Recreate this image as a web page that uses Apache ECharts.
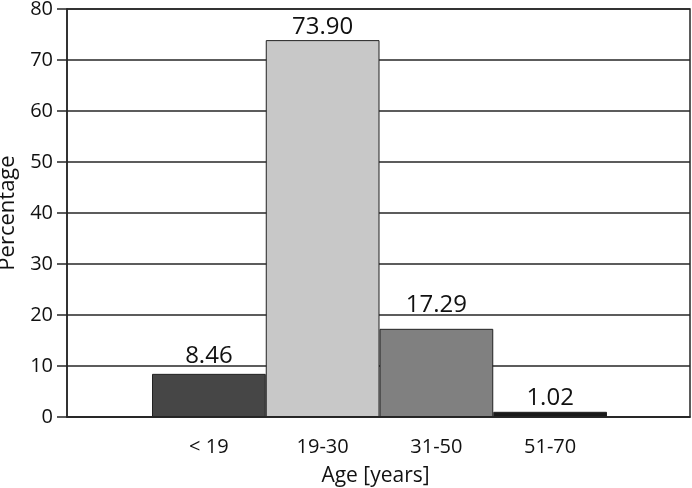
<!DOCTYPE html>
<html><head><meta charset="utf-8">
<script src="https://cdn.jsdelivr.net/npm/echarts@6/dist/echarts.min.js"></script>
<style>html,body{margin:0;padding:0;background:#fff}#c{width:692px;height:488px}</style>
</head><body><div id="c"></div>
<script>
const categories = ['< 19', '19-30', '31-50', '51-70'];
const values = [8.46, 73.90, 17.29, 1.02];
const barColors = ['#464646', '#c8c8c8', '#808080', '#1a1a1a'];
const labelDistances = [6, 1, 12, 2];
const yTicks = [0, 10, 20, 30, 40, 50, 60, 70, 80];

const FONT = '"Open Sans", "Noto Sans", sans-serif';
const LINE = '#262626';
const chart = echarts.init(document.getElementById('c'), null, {renderer: 'canvas'});
chart.setOption({
  animation: false,
  grid: [
    {left: 67, right: 2, top: 9, bottom: 71, containLabel: false, outerBoundsMode: 'none'},
    {left: 152, right: 85, top: 9, bottom: 71, containLabel: false, outerBoundsMode: 'none'}
  ],
  xAxis: [
    {
      gridIndex: 0, type: 'category', data: [''],
      axisLine: {show: true, lineStyle: {color: LINE, width: 1.5}},
      axisTick: {show: false}, axisLabel: {show: false}, splitLine: {show: false},
      name: 'Age [years]', nameLocation: 'middle', nameGap: 49,
      nameTextStyle: {color: '#111', fontSize: 21, fontFamily: FONT, padding: [0, 6, 0, 0]}
    },
    {
      gridIndex: 1, type: 'category', data: categories,
      axisLine: {show: false}, axisTick: {show: false}, splitLine: {show: false},
      axisLabel: {color: '#111', fontSize: 20, fontFamily: FONT, margin: 20}
    }
  ],
  yAxis: [
    {
      gridIndex: 0, type: 'value', min: 0, max: 80, interval: 10,
      axisLine: {show: true, onZero: false, lineStyle: {color: LINE, width: 1.5}},
      axisTick: {show: true, length: 10, lineStyle: {color: LINE, width: 1.5}},
      splitLine: {show: true, lineStyle: {color: LINE, width: 1.5}},
      axisLabel: {color: '#111', fontSize: 20, fontFamily: FONT, margin: 14,
        formatter: v => yTicks.includes(v) ? String(v) : ''},
      name: 'Percentage', nameLocation: 'middle', nameGap: 41, nameRotate: 90,
      nameTextStyle: {color: '#111', fontSize: 22, fontFamily: FONT}
    },
    {
      gridIndex: 1, type: 'value', min: 0, max: 80, interval: 10, show: false,
      splitLine: {show: false}
    }
  ],
  graphic: [{type: 'rect', shape: {x: 67, y: 9, width: 623, height: 408}, style: {fill: 'none', stroke: LINE, lineWidth: 1.5}, silent: true, z: 100}],
  series: [{
    type: 'bar', xAxisIndex: 1, yAxisIndex: 1,
    barWidth: '100%',
    data: values.map((v, i) => ({value: v, itemStyle: {color: barColors[i]}, label: {distance: labelDistances[i]}})),
    itemStyle: {borderColor: '#222', borderWidth: 1},
    label: {show: true, position: 'top', color: '#111', fontSize: 24, fontFamily: FONT,
      formatter: p => p.value.toFixed(2)}
  }]
});
</script></body></html>
